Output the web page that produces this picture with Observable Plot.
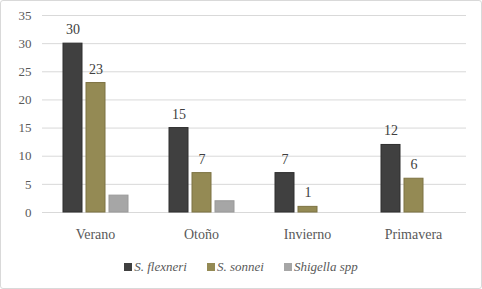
<!DOCTYPE html>
<html>
<head>
<meta charset="utf-8">
<script src="https://cdn.jsdelivr.net/npm/d3@7"></script>
<script src="https://cdn.jsdelivr.net/npm/@observablehq/plot@0.6"></script>
<style>
  html, body { margin: 0; padding: 0; background: #fff; }
  #frame { width: 482px; height: 289px; box-sizing: border-box; border: 1px solid #d9d9d9; border-radius: 3px; position: relative; overflow: hidden; }
  #legend { position: absolute; left: 0; right: 0; top: 258px; text-align: center; font-family: 'Liberation Serif' !important; font-style: italic; font-size: 13px; color: #595959; }
  #legend span.item { margin: 0 10px; white-space: nowrap; }
  #legend span.sw { display: inline-block; width: 8px; height: 8px; margin-right: 2px; vertical-align: 0px; }
  svg text, svg g { font-family: 'Liberation Serif' !important; }
</style>
</head>
<body>
<div id="frame"><div id="chart"></div><div id="legend"></div></div>
<script>
const seasons = ["Verano", "Otoño", "Invierno", "Primavera"];
const series = ["S. flexneri", "S. sonnei", "Shigella spp"];
const flexneri = [30, 15, 7, 12];
const sonnei = [23, 7, 1, 6];
const shigellaSpp = [3, 2, 0, 0];
const labelled = ["S. flexneri", "S. sonnei"];
const yTicks = [0, 5, 10, 15, 20, 25, 30, 35];
const colors = ["#404040", "#948a54", "#a6a6a6"];
const strokes = ["#2e2e2e", "#7d7343", "#9a9a9a"];
const FONT = "'Liberation Serif', serif";

const valuesBySeries = [flexneri, sonnei, shigellaSpp];
const data = [];
seasons.forEach((s, i) => {
  series.forEach((k, j) => {
    data.push({season: s, series: k, value: valuesBySeries[j][i]});
  });
});

const chart = Plot.plot({
  width: 480,
  height: 252,
  marginLeft: 40,
  marginRight: 14,
  marginTop: 14,
  marginBottom: 41,
  style: {fontSize: "13px", color: "#595959", background: "transparent"},
  fx: {domain: seasons, padding: 0, label: null},
  x: {domain: series, paddingInner: 0.19, paddingOuter: 0.86, axis: null},
  y: {domain: [0, 35], label: null},
  color: {domain: series, range: colors},
  marks: [
    Plot.ruleY(yTicks, {stroke: "#d9d9d9", strokeWidth: 1}),
    Plot.barY(data, {fx: "season", x: "series", y: "value", fill: "series",
      stroke: d => strokes[series.indexOf(d.series)], strokeWidth: 1,
      filter: d => d.value > 0}),
    Plot.text(data.filter(d => labelled.includes(d.series)), {fx: "season", x: "series", y: "value", text: d => String(d.value),
      dy: -14, fill: "#404040", fontSize: 14}),
    Plot.axisFx({anchor: "bottom", tickSize: 0, tickPadding: 17, fontSize: 14, fill: "#595959", label: null}),
    Plot.axisY({ticks: yTicks, tickSize: 0, tickPadding: 11, fontSize: 13, fill: "#595959", label: null})
  ]
});
chart.style.setProperty("font-family", FONT, "important");
chart.querySelectorAll("text, g").forEach(el => { el.style.setProperty("font-family", FONT, "important"); el.setAttribute("font-family", "Liberation Serif"); });
document.getElementById("chart").appendChild(chart);

const legend = document.getElementById("legend");
legend.style.setProperty("font-family", FONT, "important");
series.forEach((k, j) => {
  const item = document.createElement("span");
  item.className = "item";
  item.style.setProperty("font-family", FONT, "important");
  const sw = document.createElement("span");
  sw.className = "sw";
  sw.style.background = colors[j];
  item.appendChild(sw);
  item.appendChild(document.createTextNode(k));
  legend.appendChild(item);
});
</script>
</body>
</html>
